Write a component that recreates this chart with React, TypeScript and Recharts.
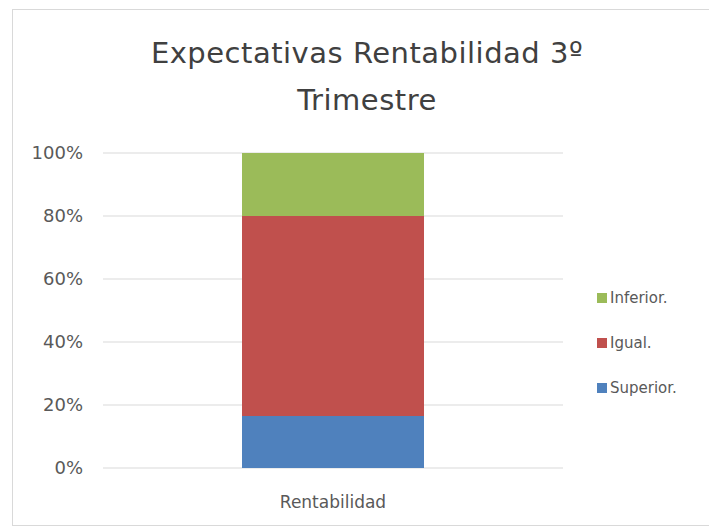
import React from "react";
import { Bar, BarChart, CartesianGrid, XAxis, YAxis } from "recharts";

const categories = ["Rentabilidad"];
const superior = [16.5];
const igual = [63.5];
const inferior = [20];
const yTicks = [0, 20, 40, 60, 80, 100];

// stacking order bottom -> top
const series = [
  { key: "superior", name: "Superior.", color: "#4f81bd" },
  { key: "igual", name: "Igual.", color: "#c0504d" },
  { key: "inferior", name: "Inferior.", color: "#9bbb59" },
];

const data = categories.map((name, i) => ({
  name,
  superior: superior[i],
  igual: igual[i],
  inferior: inferior[i],
}));

const FONT = "'DejaVu Sans', sans-serif";
const TEXT = "#595959";

export default function App() {
  return (
    <div
      style={{
        position: "absolute",
        left: 0,
        top: 0,
        width: 709,
        height: 527,
        overflow: "hidden",
        background: "#fff",
      }}
    >
      <div
        style={{
          position: "absolute",
          left: 12,
          top: 9,
          width: 720,
          height: 515,
          border: "1px solid #d9d9d9",
        }}
      />
      <div
        style={{
          position: "absolute",
          left: 0,
          top: 30,
          width: 734,
          textAlign: "center",
          fontFamily: FONT,
          fontSize: 29,
          letterSpacing: 0.5,
          lineHeight: "47px",
          color: "#404040",
        }}
      >
        Expectativas Rentabilidad 3º
        <br />
        Trimestre
      </div>
      <div style={{ position: "absolute", left: 0, top: 0 }}>
        <BarChart
          width={709}
          height={527}
          data={data}
          margin={{ top: 153, right: 146, bottom: 29, left: 43 }}
        >
          <CartesianGrid vertical={false} stroke="#d9d9d9" />
          <XAxis
            dataKey="name"
            axisLine={false}
            tickLine={false}
            tickSize={0}
            tickMargin={28}
            tick={{ fill: TEXT, fontSize: 17, fontFamily: FONT }}
          />
          <YAxis
            width={60}
            domain={[0, 100]}
            ticks={yTicks}
            tickFormatter={(v: number) => `${v}%`}
            axisLine={false}
            tickLine={false}
            tickSize={0}
            tickMargin={20}
            tick={{ fill: TEXT, fontSize: 18, fontFamily: FONT }}
          />
          {series.map((s) => (
            <Bar
              key={s.key}
              dataKey={s.key}
              name={s.name}
              stackId="a"
              fill={s.color}
              barSize={182}
              isAnimationActive={false}
            />
          ))}
        </BarChart>
      </div>
      <div
        style={{
          position: "absolute",
          left: 597,
          top: 275,
          fontFamily: FONT,
          fontSize: 15,
          color: TEXT,
        }}
      >
        {[...series].reverse().map((s) => (
          <div
            key={s.key}
            style={{ display: "flex", alignItems: "center", height: 45 }}
          >
            <span
              style={{
                display: "inline-block",
                width: 10,
                height: 10,
                background: s.color,
                marginRight: 3,
              }}
            />
            {s.name}
          </div>
        ))}
      </div>
    </div>
  );
}
